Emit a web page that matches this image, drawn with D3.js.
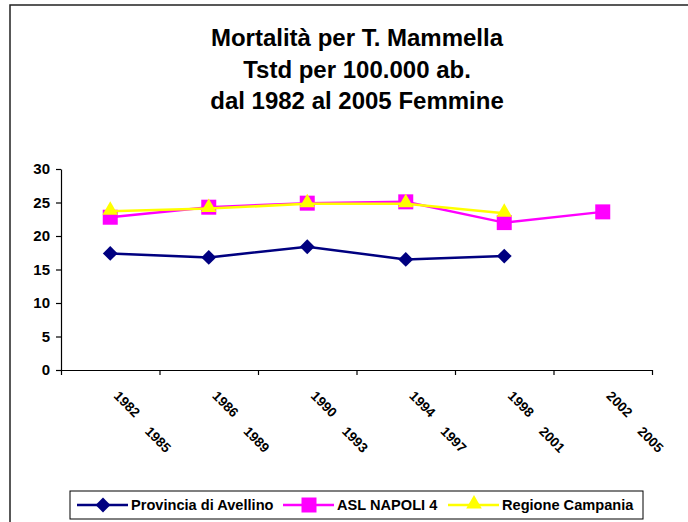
<!DOCTYPE html>
<html lang="en">
<head>
    <meta charset="UTF-8">
    <title>Mortalita T. Mammella</title>
    <script src="https://d3js.org/d3.v7.min.js"></script>
    <style>
        body { margin: 0; background: #fff; }
        text { font-family: Arial, "Liberation Sans", sans-serif; font-weight: bold; fill: #000; }
    </style>
</head>
<body>
    <svg width="688" height="522"></svg>
    <script>
        // data
        const periodStart = ['1982', '1986', '1990', '1994', '1998', '2002'];
        const periodEnd = ['1985', '1989', '1993', '1997', '2001', '2005'];
        const provincia = [17.4, 16.8, 18.4, 16.5, 17.0, null];
        const aslNapoli = [22.8, 24.3, 24.9, 25.1, 22.0, 23.6];
        const regione = [23.7, 24.1, 24.8, 24.8, 23.4, null];
        const yTicks = [0, 5, 10, 15, 20, 25, 30];
        const titleLines = ['Mortalità per T. Mammella', 'Tstd per 100.000 ab.', 'dal 1982 al 2005 Femmine'];

        const series = [
            { name: 'Provincia di Avellino', values: provincia, color: '#000080', marker: 'diamond' },
            { name: 'ASL NAPOLI 4', values: aslNapoli, color: '#ff00ff', marker: 'square' },
            { name: 'Regione Campania', values: regione, color: '#ffff00', marker: 'triangle' }
        ];

        const svg = d3.select('svg');
        const plot = { left: 61, right: 652, top: 169, bottom: 370 };

        // outer frame (runs off the right and bottom edge)
        svg.append('rect')
            .attr('x', 10).attr('y', 5)
            .attr('width', 720).attr('height', 600)
            .attr('fill', 'none').attr('stroke', '#222').attr('stroke-width', 1.5);

        // title
        svg.append('g').selectAll('text')
            .data(titleLines)
            .enter().append('text')
            .attr('x', 357)
            .attr('y', (d, i) => 46 + i * 31.5)
            .attr('text-anchor', 'middle')
            .style('font-size', '24px')
            .text(d => d);

        const x = d3.scaleBand()
            .domain(periodStart)
            .range([plot.left, plot.right]);
        const xTick = d3.scaleLinear()
            .domain([0, periodStart.length])
            .range([plot.left, plot.right]);
        const y = d3.scaleLinear()
            .domain([0, 30])
            .range([plot.bottom, plot.top]);

        // y axis
        const yAxis = svg.append('g')
            .attr('transform', 'translate(' + plot.left + ',0)')
            .call(d3.axisLeft(y).tickValues(yTicks).tickSize(5).tickPadding(6).tickSizeOuter(0));
        yAxis.selectAll('text').style('font-size', '15px').style('font-family', 'Arial, "Liberation Sans", sans-serif');

        // x axis, ticks between categories
        svg.append('g')
            .attr('transform', 'translate(0,' + plot.bottom + ')')
            .call(d3.axisBottom(xTick).ticks(periodStart.length).tickFormat('').tickSize(5).tickSizeOuter(0));

        svg.selectAll('.domain, .tick line').attr('stroke', '#000').attr('stroke-width', 1.2);

        // rotated category labels
        const lab = svg.append('g').selectAll('g')
            .data(periodStart)
            .enter().append('g')
            .attr('transform', d => 'translate(' + (x(d) + x.bandwidth() / 2) + ',' + plot.bottom + ') rotate(45)');
        lab.append('text')
            .attr('x', 21).attr('y', 17)
            .style('font-size', '13.5px')
            .text(d => d);
        lab.append('text')
            .attr('x', 68).attr('y', 20)
            .style('font-size', '13.5px')
            .text((d, i) => periodEnd[i]);

        const cx = (d, i) => x(periodStart[i]) + x.bandwidth() / 2;

        const line = d3.line()
            .defined(d => d != null)
            .x((d, i) => cx(d, i))
            .y(d => y(d));

        const symbols = {
            diamond: d3.symbol().type(d3.symbolSquare).size(110),
            square: d3.symbol().type(d3.symbolSquare).size(225),
            triangle: d3.symbol().type(d3.symbolTriangle).size(105)
        };

        function drawMarker(g, s) {
            const p = g.append('path')
                .attr('d', symbols[s.marker]())
                .attr('fill', s.color);
            if (s.marker === 'diamond') p.attr('transform', 'rotate(45)');
            if (s.marker === 'triangle') p.attr('transform', 'translate(0,-1)');
        }

        series.forEach(s => {
            svg.append('path')
                .datum(s.values)
                .attr('d', line)
                .attr('fill', 'none')
                .attr('stroke', s.color)
                .attr('stroke-width', 2.5);
            s.values.forEach((v, i) => {
                if (v == null) return;
                const g = svg.append('g').attr('transform', 'translate(' + cx(v, i) + ',' + y(v) + ')');
                drawMarker(g, s);
            });
        });

        // legend
        const legend = svg.append('g');
        legend.append('rect')
            .attr('x', 70).attr('y', 491)
            .attr('width', 573).attr('height', 28)
            .attr('fill', '#fff').attr('stroke', '#000').attr('stroke-width', 1);
        const legendX = [77, 283, 448];
        series.forEach((s, i) => {
            const g = legend.append('g').attr('transform', 'translate(' + legendX[i] + ',505)');
            g.append('line')
                .attr('x1', 0).attr('x2', 51)
                .attr('stroke', s.color).attr('stroke-width', 2.5);
            const m = g.append('g').attr('transform', 'translate(26,0)');
            drawMarker(m, s);
            g.append('text')
                .attr('x', 54).attr('y', 5)
                .style('font-size', '14.6px')
                .text(s.name);
        });
    </script>
</body>
</html>
